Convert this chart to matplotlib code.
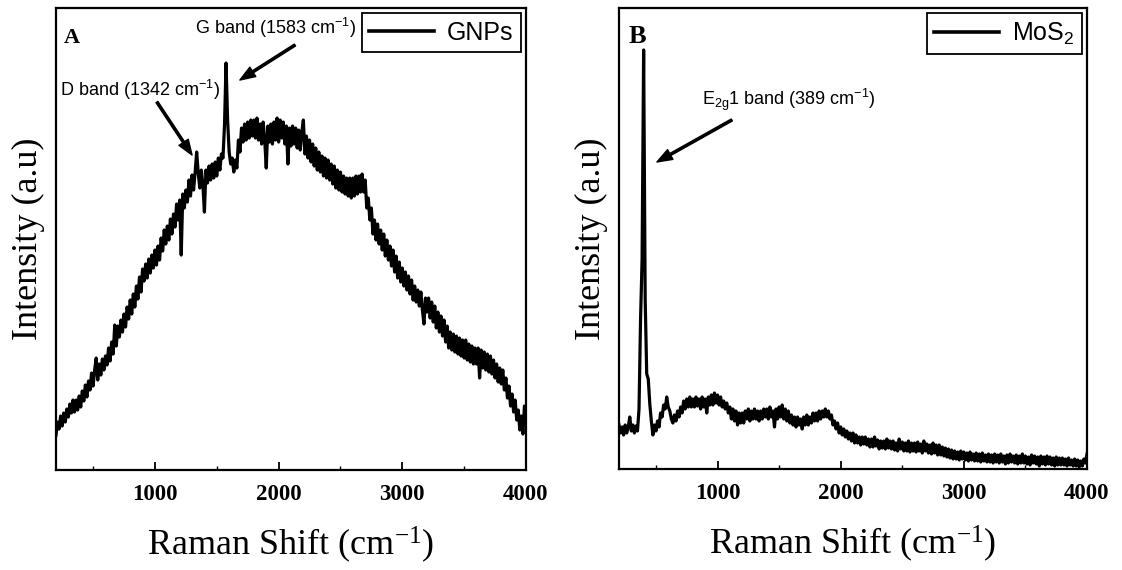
import numpy as np
import matplotlib
matplotlib.use("Agg")
import matplotlib.pyplot as plt

# Raman shift grid (cm-1), both spectra sampled on it
shift = np.arange(200, 4000.1, 12.5)

# GNPs intensity (a.u.), one row per 200 cm-1
gnp = [35, 48, 41, 54, 44, 57, 48, 61, 53, 66, 57, 70, 58, 70, 60, 74,
       63, 79, 69, 85, 73, 89, 80, 97, 84, 100, 112, 90, 106, 95, 111, 100,
       114, 105, 122, 109, 128, 116, 145, 124, 144, 133, 150, 138, 156, 143, 163, 151,
       170, 156, 176, 163, 184, 171, 193, 178, 201, 189, 206, 192, 211, 197, 215, 202,
       220, 205, 224, 210, 232, 219, 240, 226, 244, 230, 251, 236, 256, 243, 266, 250,
       270, 215, 276, 262, 280, 268, 290, 274, 295, 280, 298, 318, 297, 282, 300, 285,
       258, 300, 287, 304, 290, 306, 292, 308, 294, 312, 300, 316, 312, 345, 407, 350,
       318, 306, 312, 298, 310, 302, 330, 318, 342, 328, 346, 330, 348, 332, 350, 334,
       350, 332, 352, 330, 346, 326, 348, 330, 302, 344, 328, 346, 326, 348, 330, 352,
       328, 350, 332, 348, 326, 344, 306, 342, 324, 344, 326, 342, 322, 340, 320, 338,
       350, 316, 334, 312, 330, 308, 326, 304, 322, 300, 318, 298, 314, 294, 312, 292,
       310, 290, 306, 286, 304, 282, 300, 280, 298, 278, 294, 276, 292, 274, 292, 272,
       292, 274, 294, 276, 294, 278, 296, 278, 290, 262, 272, 250, 262, 236, 250, 230,
       246, 226, 240, 220, 236, 214, 230, 210, 224, 204, 220, 198, 214, 192, 208, 188,
       202, 184, 198, 180, 194, 176, 190, 170, 184, 168, 180, 164, 178, 160, 146, 172,
       158, 172, 152, 168, 148, 164, 142, 158, 138, 154, 134, 150, 128, 144, 122, 138,
       120, 136, 118, 134, 116, 132, 114, 130, 112, 130, 110, 126, 108, 124, 106, 122,
       106, 122, 92, 120, 102, 118, 100, 116, 98, 114, 96, 110, 92, 106, 88, 102,
       86, 100, 80, 92, 72, 84, 64, 76, 58, 70, 50, 60, 40, 54, 36, 64,
       58]

# MoS2 intensity (a.u.), one row per 200 cm-1
mos2 = [44, 36, 42, 34, 44, 36, 42, 52, 38, 44, 36, 43, 38, 60, 150, 210,
        419, 170, 95, 90, 65, 48, 34, 44, 38, 48, 42, 56, 52, 64, 60, 72,
        62, 58, 50, 46, 54, 48, 58, 52, 62, 56, 68, 60, 70, 62, 72, 62,
        70, 62, 72, 63, 70, 60, 72, 62, 70, 56, 72, 64, 74, 64, 76, 66,
        74, 64, 72, 62, 68, 60, 66, 56, 62, 50, 60, 48, 58, 44, 56, 46,
        56, 46, 58, 50, 60, 48, 58, 50, 60, 50, 58, 48, 58, 50, 60, 52,
        60, 50, 62, 52, 58, 42, 60, 50, 62, 52, 64, 50, 60, 48, 58, 46,
        54, 44, 52, 42, 52, 44, 50, 40, 52, 44, 54, 44, 52, 46, 56, 48,
        56, 48, 58, 50, 58, 52, 60, 52, 58, 50, 54, 44, 48, 40, 46, 36,
        42, 34, 40, 32, 38, 30, 36, 28, 36, 26, 34, 26, 32, 24, 32, 25,
        32, 24, 30, 22, 30, 22, 32, 23, 29, 20, 28, 21, 28, 20, 30, 21,
        28, 20, 28, 19, 26, 18, 30, 20, 27, 18, 26, 18, 28, 17, 26, 18,
        26, 17, 27, 18, 25, 16, 28, 18, 25, 16, 24, 15, 26, 16, 24, 14,
        24, 14, 22, 13, 21, 12, 20, 11, 19, 10, 18, 10, 17, 9, 18, 10,
        17, 9, 16, 8, 17, 9, 15, 8, 16, 8, 15, 7, 16, 8, 14, 7,
        15, 7, 14, 6, 15, 7, 14, 6, 15, 7, 13, 5, 14, 6, 15, 7,
        13, 6, 14, 5, 13, 6, 15, 6, 13, 5, 12, 4, 14, 6, 13, 5,
        12, 3, 13, 5, 12, 4, 13, 5, 12, 4, 11, 3, 12, 4, 11, 4,
        11, 4, 10, 3, 11, 4, 9, 3, 10, 3, 9, 2, 8, 3, 10, 6,
        15]

serif = "Liberation Serif"
sans = "Liberation Sans"
inv_cm = r"cm$\mathregular{^{-1}}$"

fig = plt.figure(figsize=(11.22, 5.70), dpi=100)
axA = fig.add_axes([0.0499, 0.1754, 0.4189, 0.8105])
axB = fig.add_axes([0.5517, 0.1772, 0.4171, 0.8088])

arrow = dict(facecolor="black", edgecolor="black", width=1.6,
             headwidth=8, headlength=11, shrink=0)

axA.plot(shift, gnp, color="black", lw=2.3, label="GNPs")
axA.set_ylim(0, 462)
axA.text(0.017, 0.925, "A", transform=axA.transAxes, fontsize=16,
         fontweight="bold", family=serif)
axA.text(1324, 442, "G band (1583 " + inv_cm + ")", fontsize=13,
         family=sans, va="center")
axA.annotate("", xy=(1687, 390), xytext=(2132, 425), arrowprops=arrow)
axA.text(232, 380, "D band (1342 " + inv_cm + ")", fontsize=13,
         family=sans, va="center")
axA.annotate("", xy=(1300, 315), xytext=(1016, 368), arrowprops=arrow)

axB.plot(shift, mos2, color="black", lw=2.3, label=r"MoS$\mathregular{_2}$")
axB.set_ylim(0, 461)
axB.text(0.02, 0.925, "B", transform=axB.transAxes, fontsize=19,
         fontweight="bold", family=serif)
axB.text(873, 369, r"E$\mathregular{_{2g}}$1 band (389 " + inv_cm + ")",
         fontsize=13, family=sans, va="center")
axB.annotate("", xy=(508, 307), xytext=(1116, 349), arrowprops=arrow)

for ax in (axA, axB):
    ax.set_xlim(200, 4000)
    ax.set_xticks([1000, 2000, 3000, 4000])
    ax.set_xticks([500, 1500, 2500, 3500], minor=True)
    ax.set_yticks([])
    ax.tick_params(axis="x", which="major", direction="in", length=6,
                   width=1.3, pad=10)
    ax.tick_params(axis="x", which="minor", direction="in", length=3,
                   width=1.0)
    for lab in ax.get_xticklabels():
        lab.set_fontfamily(serif)
        lab.set_fontweight("bold")
        lab.set_fontsize(16.5)
    for sp in ax.spines.values():
        sp.set_linewidth(1.6)
    ax.set_xlabel("Raman Shift (" + inv_cm + ")", fontsize=26, family=serif,
                  labelpad=14)
    ax.set_ylabel("Intensity (a.u)", fontsize=26, family=serif, labelpad=8)
    leg = ax.legend(loc="upper right", handlelength=2.6, fancybox=False,
                    framealpha=1, borderaxespad=0.2, borderpad=0.3,
                    handletextpad=0.5, prop={"family": sans, "size": 18})
    leg.get_frame().set_edgecolor("black")
    leg.get_frame().set_linewidth(1.3)
    for ln in leg.get_lines():
        ln.set_linewidth(2.6)

fig.savefig("out.png", dpi=100)
